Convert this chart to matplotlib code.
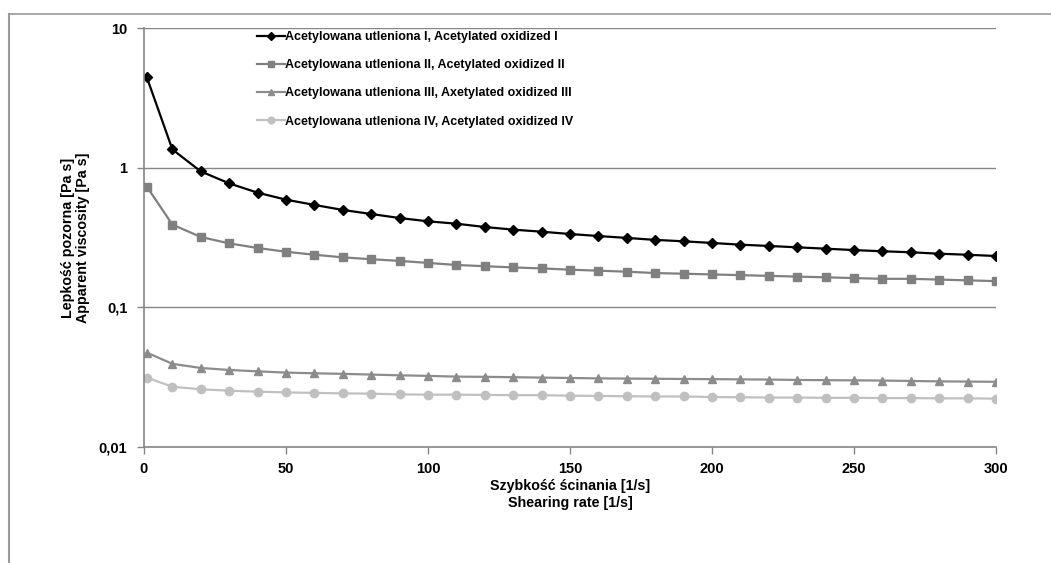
import matplotlib.pyplot as plt
from matplotlib.lines import Line2D
from matplotlib.ticker import FixedLocator, FixedFormatter, NullLocator

plt.rcParams['font.family'] = ['Liberation Sans', 'DejaVu Sans']
plt.rcParams['font.weight'] = 'bold'

# shear rate [1/s]
shear = [1, 10, 20, 30, 40, 50, 60, 70, 80, 90, 100, 110, 120, 130, 140, 150,
         160, 170, 180, 190, 200, 210, 220, 230, 240, 250, 260, 270, 280, 290, 300]

# apparent viscosity [Pa s]
visc_1 = [4.43, 1.35, 0.94, 0.772, 0.662, 0.590, 0.541, 0.498, 0.466, 0.436, 0.413,
          0.397, 0.376, 0.360, 0.348, 0.335, 0.324, 0.314, 0.304, 0.297, 0.289,
          0.281, 0.275, 0.269, 0.263, 0.257, 0.252, 0.248, 0.242, 0.238, 0.233]
visc_2 = [0.731, 0.391, 0.319, 0.287, 0.266, 0.250, 0.238, 0.228, 0.221, 0.215, 0.208,
          0.201, 0.197, 0.193, 0.190, 0.186, 0.183, 0.180, 0.176, 0.174, 0.172,
          0.170, 0.168, 0.166, 0.164, 0.162, 0.160, 0.160, 0.158, 0.156, 0.154]
visc_3 = [0.0474, 0.0394, 0.0368, 0.0356, 0.0348, 0.0341, 0.0337, 0.0334, 0.0330, 0.0326,
          0.0323, 0.0319, 0.0318, 0.0316, 0.0314, 0.0312, 0.0310, 0.0309, 0.0308, 0.0307,
          0.0306, 0.0305, 0.0304, 0.0302, 0.0301, 0.0300, 0.0299, 0.0297, 0.0295, 0.0294, 0.0293]
visc_4 = [0.0314, 0.0270, 0.0259, 0.0253, 0.0249, 0.0246, 0.0244, 0.0242, 0.0241, 0.0238,
          0.0237, 0.0237, 0.0236, 0.0235, 0.0235, 0.0233, 0.0232, 0.0231, 0.0230, 0.0230,
          0.0228, 0.0227, 0.0226, 0.0226, 0.0225, 0.0225, 0.0224, 0.0224, 0.0223, 0.0223, 0.0222]

labels = ['Acetylowana utleniona I, Acetylated oxidized I',
          'Acetylowana utleniona II, Acetylated oxidized II',
          'Acetylowana utleniona III, Axetylated oxidized III',
          'Acetylowana utleniona IV, Acetylated oxidized IV']

y_ticks = [0.01, 0.1, 1, 10]
y_tick_labels = ['0,01', '0,1', '1', '10']
x_ticks = [0, 50, 100, 150, 200, 250, 300]

W, H = 1051, 563
fig = plt.figure(figsize=(W / 100, H / 100), dpi=100)
ax = fig.add_axes([144 / W, 1 - 447 / H, (996 - 144) / W, (447 - 28) / H])

# outer chart frame (top and left edges visible)
frame_col = '#9a9a9a'
fig.add_artist(Line2D([9 / W, 1], [1 - 14 / H, 1 - 14 / H], color=frame_col, lw=1.2,
                      transform=fig.transFigure))
fig.add_artist(Line2D([9 / W, 9 / W], [0, 1 - 14 / H], color=frame_col, lw=1.5,
                      transform=fig.transFigure))

ax.plot(shear, visc_1, color='black', lw=1.6, marker='D', ms=5.5, label=labels[0])
ax.plot(shear, visc_2, color='#808080', lw=1.6, marker='s', ms=6, label=labels[1])
ax.plot(shear, visc_3, color='#8c8c8c', lw=1.6, marker='^', ms=6, label=labels[2])
ax.plot(shear, visc_4, color='#c0c0c0', lw=1.6, marker='o', ms=6, label=labels[3])

ax.set_yscale('log')
ax.set_ylim(0.01, 10)
ax.set_xlim(0, 300)
ax.yaxis.set_major_locator(FixedLocator(y_ticks))
ax.yaxis.set_major_formatter(FixedFormatter(y_tick_labels))
ax.yaxis.set_minor_locator(NullLocator())
ax.set_xticks(x_ticks)

ax.grid(axis='y', color='#868686', lw=1)
ax.set_axisbelow(True)
for s in ['top', 'right']:
    ax.spines[s].set_visible(False)
for s in ['left', 'bottom']:
    ax.spines[s].set_color('#868686')
    ax.spines[s].set_linewidth(1.2)
ax.tick_params(axis='both', colors='#868686', labelcolor='black', length=5,
               labelsize=10.5, width=1)
ax.tick_params(axis='y', pad=7)
ax.tick_params(axis='x', pad=6)

ax.set_xlabel('Szybkość ścinania [1/s]\nShearing rate [1/s]', fontsize=10.3,
              fontweight='bold', labelpad=2, linespacing=1.3)
ax.set_ylabel('Lepkość pozorna [Pa s]\nApparent viscosity [Pa s]', fontsize=10.3,
              fontweight='bold', labelpad=6, linespacing=1.15)

leg = ax.legend(loc='upper left', bbox_to_anchor=(0.133, 0.993), frameon=False,
                fontsize=9, handlelength=2.2, handletextpad=0.05, labelspacing=1.3,
                borderpad=0, borderaxespad=0, markerscale=0.8)
for t in leg.get_texts():
    t.set_fontweight('bold')

fig.savefig('out.png', dpi=100)
